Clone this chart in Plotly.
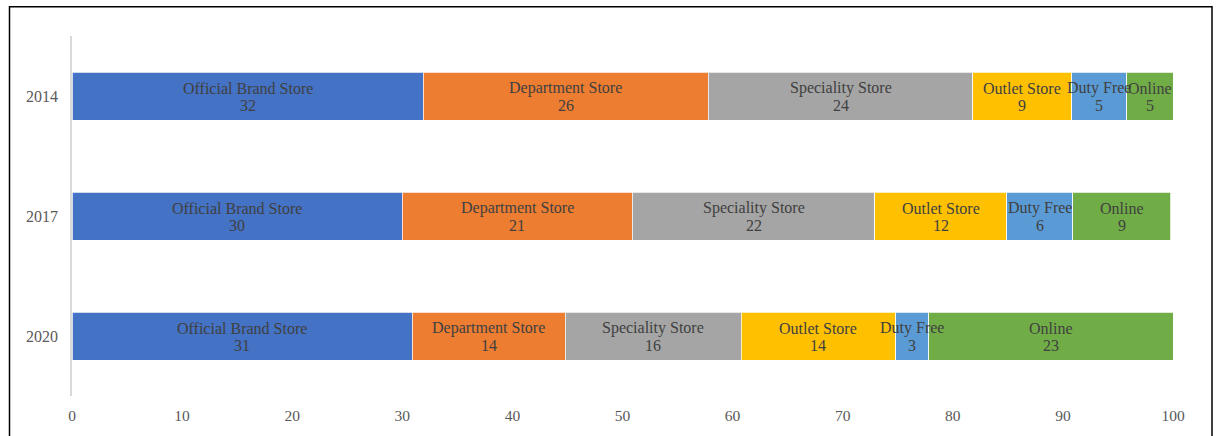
import plotly.graph_objects as go

years = ["2014", "2017", "2020"]
channels = ["Official Brand Store", "Department Store", "Speciality Store",
            "Outlet Store", "Duty Free", "Online"]
colors = ["#4472C4", "#ED7D31", "#A5A5A5", "#FFC000", "#5B9BD5", "#70AD47"]

# bar lengths (per year, per channel)
official = [31.9, 30.0, 30.9]
department = [25.9, 20.9, 13.9]
speciality = [24.0, 22.0, 16.0]
outlet = [9.0, 12.0, 14.0]
duty_free = [5.0, 6.0, 3.0]
online = [4.2, 8.9, 22.2]

# data labels as printed on the chart
official_lbl = [32, 30, 31]
department_lbl = [26, 21, 14]
speciality_lbl = [24, 22, 16]
outlet_lbl = [9, 12, 14]
duty_free_lbl = [5, 6, 3]
online_lbl = [5, 9, 23]

series = [official, department, speciality, outlet, duty_free, online]
labels = [official_lbl, department_lbl, speciality_lbl, outlet_lbl, duty_free_lbl, online_lbl]

FONT = "Liberation Serif, Times New Roman, serif"
LBL_FONT = dict(family=FONT, size=16, color="#404040")

cat_order = years[::-1]  # 2014 at the top

fig = go.Figure()
for name, vals, col in zip(channels, series, colors):
    fig.add_trace(go.Bar(
        y=years, x=vals, orientation="h", name=name,
        marker=dict(color=col, line=dict(color="white", width=0.75)),
        hoverinfo="skip",
    ))

# data labels centred on each segment (may overflow narrow segments, as in the original)
base = [0.0] * len(years)
annotations = []
for name, vals, lbls in zip(channels, series, labels):
    for yr, b, v, lb in zip(years, base, vals, lbls):
        mid = b + v / 2
        yi = cat_order.index(yr)  # category axis position
        annotations.append(dict(x=mid, y=yi, xref="x", yref="y", text=name,
                                showarrow=False, yshift=8, font=LBL_FONT))
        annotations.append(dict(x=mid, y=yi, xref="x", yref="y", text=str(lb),
                                showarrow=False, yshift=-9, font=LBL_FONT))
    base = [b + v for b, v in zip(base, vals)]

fig.update_layout(
    barmode="stack", bargap=0.6,
    width=1216, height=436,
    margin=dict(l=72, r=43, t=36, b=38),
    paper_bgcolor="white", plot_bgcolor="white",
    showlegend=False,
    font=dict(family=FONT, size=15, color="#595959"),
    annotations=annotations,
    xaxis=dict(range=[0, 100], tickvals=[0, 10, 20, 30, 40, 50, 60, 70, 80, 90, 100],
               showgrid=False, zeroline=False, showline=False,
               ticks="", ticklabelstandoff=8,
               tickfont=dict(family=FONT, size=15.5, color="#595959")),
    yaxis=dict(type="category", categoryorder="array", categoryarray=cat_order,
               range=[-0.5, len(years) - 0.5],
               showgrid=False, zeroline=False, showline=True,
               linecolor="#D9D9D9", linewidth=1.5, ticks="",
               ticklabelstandoff=9,
               tickfont=dict(family=FONT, size=16, color="#595959")),
    shapes=[dict(type="rect", xref="paper", yref="paper",
                 x0=(9.5 - 72) / 1101, x1=(1212 - 72) / 1101,
                 y0=-0.2, y1=(398 - 6.5) / 362,
                 line=dict(color="black", width=1.5), fillcolor="rgba(0,0,0,0)",
                 layer="above")],
)

fig.write_html("out.html")
